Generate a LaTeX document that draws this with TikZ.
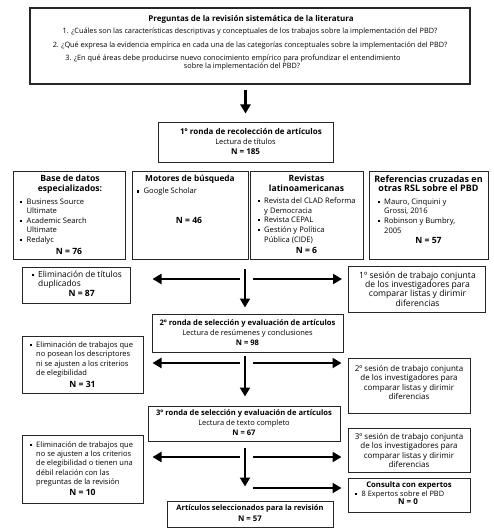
\documentclass[tikz,border=0pt]{standalone}
\usepackage{fontspec}
\setmainfont{Open Sans}
\usetikzlibrary{arrows.meta}
\newcommand\fq{\fontsize{7.3}{9}\selectfont}
\newcommand\fs{\fontsize{7.6}{9.6}\selectfont}
\newcommand\fe{\fontsize{7.5}{9.35}\selectfont}
\newcommand\fb{\fontsize{8.6}{9.5}\selectfont\bfseries}
\newcommand\fh{\fontsize{8.6}{9.8}\selectfont\bfseries}
\newcommand\fr{\fontsize{7.6}{9.5}\selectfont\bfseries}
\newcommand\bul{\makebox[6.5pt][l]{\raisebox{1.4pt}{\rule{2.1pt}{2.1pt}}}}
\newcommand\ind{\hspace*{6.5pt}}
\begin{document}
\begin{tikzpicture}[x=1pt,y=-1pt,
  box/.style={draw=black!85, line width=1pt, inner sep=0pt},
  tx/.style={inner sep=0pt, font=\fs, align=center},
  tb/.style={inner sep=0pt, font=\fb, align=center},
  th/.style={inner sep=0pt, font=\fh, align=center},
  tl/.style={inner sep=0pt, font=\fs, align=left, anchor=west},
  arr/.style={line width=2.6pt, -{Triangle[length=9pt,width=10pt]}}]
\useasboundingbox (0,0) rectangle (493,532);
% boxes
\node[box, line width=1.2pt, minimum width=440pt, minimum height=76pt] (q) at (250,46) {};
\node[box, minimum width=175pt, minimum height=40pt] (r1) at (245.5,142) {};
\node[box, minimum width=112pt, minimum height=88pt] (A) at (69,215) {};
\node[box, minimum width=116pt, minimum height=88pt] (B) at (190,215) {};
\node[box, minimum width=113pt, minimum height=88pt] (C) at (306.5,215) {};
\node[box, minimum width=119pt, minimum height=88pt] (D) at (428.5,215) {};
\node[box, minimum width=108pt, minimum height=36pt] (e1) at (76,285) {};
\node[box, minimum width=137pt, minimum height=46pt] (s1) at (417,289) {};
\node[box, minimum width=191pt, minimum height=38pt] (r2) at (247.5,333) {};
\node[box, minimum width=121pt, minimum height=57pt] (e2) at (82.5,364.5) {};
\node[box, minimum width=122pt, minimum height=55pt] (s2) at (409,385.5) {};
\node[box, minimum width=192pt, minimum height=35pt] (r3) at (244,423.5) {};
\node[box, minimum width=122pt, minimum height=44pt] (s3) at (409,450) {};
\node[box, minimum width=121pt, minimum height=68pt] (e3) at (82.5,469) {};
\node[box, minimum width=122pt, minimum height=34pt] (cons) at (409,495) {};
\node[box, minimum width=166pt, minimum height=26pt] (art) at (250,514) {};
% texts: questions
\node[tb, font=\fontsize{8}{9}\selectfont\bfseries] (qt) at (251,19) {Preguntas de la revisión sistemática de la literatura};
\node[tx, font=\fq] (q1) at (250,32) {1. ¿Cuáles son las características descriptivas y conceptuales de los trabajos sobre la implementación del PBD?};
\node[tx, font=\fq] (q2) at (250,45.5) {2. ¿Qué expresa la evidencia empírica en cada una de las categorías conceptuales sobre la implementación del PBD?};
\node[tx, font=\fq] (q3a) at (233,58.5) {3. ¿En qué áreas debe producirse nuevo conocimiento empírico para profundizar el entendimiento};
\node[tx, font=\fq] (q3b) at (242,67) {sobre la implementación del PBD?};
% round 1
\node[tb, font=\fontsize{8}{9}\selectfont\bfseries] (r1t) at (251,131) {1º ronda de recolección de artículos};
\node[tx, font=\fe] (r1l) at (245.5,141.5) {Lectura de títulos};
\node[tb, font=\fontsize{8}{9}\selectfont\bfseries] (r1n) at (245.5,151.5) {N = 185};
% four sources
\node[th] (At) at (70,184) {Base de datos\\especializados:};
\node[tl] (Ai) at (20,221.5) {\bul Business Source\\\ind Ultimate\\\bul Academic Search\\\ind Ultimate\\\bul Redalyc};
\node[tb] (An) at (69,251) {N = 76};
\node[th, font=\fontsize{8.3}{9.8}\selectfont\bfseries] (Bt) at (190,179) {Motores de búsqueda};
\node[tl] (Bi) at (137,192) {\bul Google Scholar};
\node[tb] (Bn) at (189,220) {N = 46};
\node[th] (Ct) at (306.5,183.5) {Revistas\\latinoamericanas};
\node[tl] (Ci) at (257.5,220.5) {\bul Revista del CLAD Reforma\\\ind y Democracia\\\bul Revista CEPAL\\\bul Gestión y Política\\\ind Pública (CIDE)};
\node[tb] (Cn) at (306.5,250.5) {N = 6};
\node[th, font=\fontsize{9}{9.8}\selectfont\bfseries] (Dt) at (428.5,183.5) {Referencias cruzadas en\\otras RSL sobre el PBD};
\node[tl] (Di) at (377.5,216) {\bul Mauro, Cinquini y\\\ind Grossi, 2016\\\bul Robinson y Bumbry,\\\ind 2005};
\node[tb] (Dn) at (428.5,240.5) {N = 57};
% row 1
\node[tl, font=\fontsize{8.4}{9.4}\selectfont] (e1i) at (31.5,279.5) {\bul Eliminación de títulos\\\ind duplicados};
\node[tb] (e1n) at (81.7,293.5) {N = 87};
\node[tx, font=\fontsize{8.6}{9.4}\selectfont] (s1t) at (417.5,289) {1º sesión de trabajo conjunta\\de los investigadores para\\comparar listas y dirimir\\diferencias};
% round 2
\node[tb, font=\fr] (r2t) at (247.5,323.5) {2º ronda de selección y evaluación de artículos};
\node[tx, font=\fe] (r2l) at (247.5,333.5) {Lectura de resúmenes y conclusiones};
\node[tb, font=\fr] (r2n) at (247.5,343) {N = 98};
\node[tl, font=\fe] (e2i) at (29.5,359.5) {\bul Eliminación de trabajos que\\\ind no posean los descriptores\\\ind ni se ajusten a los criterios\\\ind de elegibilidad};
\node[tb] (e2n) at (82.5,384) {N = 31};
\node[tx, font=\fontsize{8}{9.4}\selectfont] (s2t) at (409,382.5) {2º sesión de trabajo conjunta\\de los investigadores para\\comparar listas y dirimir\\diferencias};
% round 3
\node[tb, font=\fr] (r3t) at (244,413.5) {3º ronda de selección y evaluación de artículos};
\node[tx, font=\fe] (r3l) at (244,423.5) {Lectura de texto completo};
\node[tb, font=\fr] (r3n) at (244,433) {N = 67};
\node[tx, font=\fontsize{8}{9.4}\selectfont] (s3t) at (409,450.5) {3º sesión de trabajo conjunta\\de los investigadores para\\comparar listas y dirimir\\diferencias};
\node[tl, font=\fe] (e3i) at (29.5,464) {\bul Eliminación de trabajos que\\\ind no se ajusten a los criterios\\\ind de elegibilidad o tienen una\\\ind débil relación con las\\\ind preguntas de la revisión};
\node[tb] (e3n) at (82.5,492.5) {N = 10};
\node[tb, font=\fontsize{7.7}{9}\selectfont\bfseries] (ct2) at (409,485) {Consulta con expertos};
\node[tl, font=\fontsize{7.4}{9}\selectfont] (ci2) at (355,494.5) {\bul 8 Expertos sobre el PBD};
\node[tb, font=\fontsize{8}{9}\selectfont\bfseries] (cn2) at (408,502) {N = 0};
\node[tb, font=\fontsize{7.5}{9}\selectfont\bfseries] (artt) at (250,508.5) {Artículos seleccionados para la revisión};
\node[tb, font=\fontsize{7.8}{9}\selectfont\bfseries] (artn) at (250,518.5) {N = 57};
% connectors
\coordinate (v1) at (245,269);
\coordinate (l1) at (240,279);
\coordinate (k1) at (253,279);
\coordinate (v2) at (245,356);
\coordinate (l2) at (240,363);
\coordinate (k2) at (253,363);
\coordinate (v3) at (245,448);
\coordinate (l3) at (240,457);
\coordinate (k3) at (253,457);
\coordinate (k4) at (253,488);
\draw[arr, shorten <=5pt, shorten >=8pt] (q.south -| r1.north) -- (r1.north);
\draw[arr, shorten >=6pt] (v1) -- (v1 |- r2.north);
\draw[arr, shorten >=22pt] (l1) -- (l1 -| e1.east);
\draw[arr, shorten >=6pt] (k1) -- (k1 -| s1.west);
\draw[arr, shorten >=9pt] (v2) -- (v2 |- r3.north);
\draw[arr, shorten >=9pt] (l2) -- (l2 -| e2.east);
\draw[arr, shorten >=6pt] (k2) -- (k2 -| s2.west);
\draw[arr, shorten >=14pt] (v3) -- (v3 |- art.north);
\draw[arr, shorten >=9pt] (l3) -- (l3 -| e3.east);
\draw[arr, shorten >=6pt] (k3) -- (k3 -| s3.west);
\draw[arr, shorten >=6pt] (k4) -- (k4 -| cons.west);
\end{tikzpicture}
\end{document}
